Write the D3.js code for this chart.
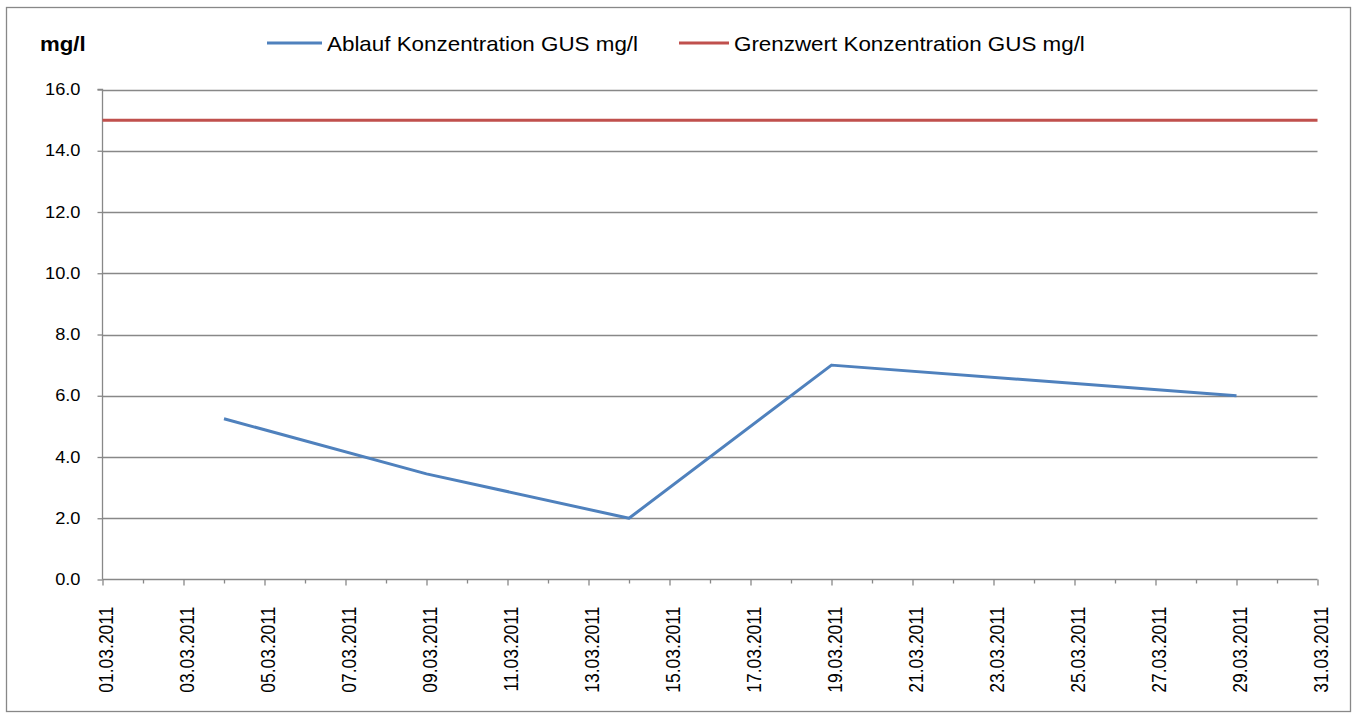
<!DOCTYPE html>
<html>
<head>
<meta charset="utf-8">
<script src="https://cdn.jsdelivr.net/npm/d3@7"></script>
<style>
  body { margin: 0; background: #fff; }
  svg { display: block; font-family: "Liberation Sans", Arial, sans-serif; }
</style>
</head>
<body>
<svg id="chart" width="1357" height="717"></svg>
<script>
// ---- data ----
const measureDates = ["04.03.2011", "09.03.2011", "14.03.2011", "19.03.2011", "29.03.2011"];
const measureValues = [5.25, 3.45, 2.0, 7.0, 6.0];
const limitDates = ["01.03.2011", "31.03.2011"];
const limitValues = [15.0, 15.0];
const seriesNames = ["Ablauf Konzentration GUS mg/l", "Grenzwert Konzentration GUS mg/l"];
const yTicks = [0, 2, 4, 6, 8, 10, 12, 14, 16];
const axisStart = "01.03.2011";
const axisEnd = "31.03.2011";
const unitLabel = "mg/l";

// ---- setup ----
const parse = d3.utcParse("%d.%m.%Y");
const fmt = d3.utcFormat("%d.%m.%Y");
const svg = d3.select("#chart");
const grid = "#888888";
const stretch = 1.14;

const pLeft = 102.5, pRight = 1317.5, pTop = 89.5, pBottom = 579.5;

const x = d3.scaleUtc().domain([parse(axisStart), parse(axisEnd)]).range([pLeft, pRight]);
const y = d3.scaleLinear().domain([0, 16]).range([pBottom, pTop]);

// outer border
svg.append("rect").attr("x", 6.5).attr("y", 7.5).attr("width", 1344).attr("height", 704)
  .attr("fill", "none").attr("stroke", grid).attr("stroke-width", 1.3);

// gridlines
svg.append("g").selectAll("line").data(yTicks.filter(d => d > 0)).join("line")
  .attr("x1", pLeft).attr("x2", pRight)
  .attr("y1", d => Math.round(y(d)) + 0.5).attr("y2", d => Math.round(y(d)) + 0.5)
  .attr("stroke", grid).attr("stroke-width", 1.3);

// y axis
const yAxis = d3.axisLeft(y).tickValues(yTicks).tickFormat(d3.format(".1f")).tickSize(5);
const gy = svg.append("g").attr("transform", `translate(${pLeft},0)`).call(yAxis);
gy.select(".domain").attr("stroke", grid).attr("stroke-width", 1.3).attr("d", `M-5,${pTop}H0V${pBottom}`);
gy.selectAll(".tick line").attr("stroke", grid).attr("stroke-width", 1.3);
gy.selectAll(".tick text").attr("fill", "#000").attr("x", null)
  .attr("transform", `translate(-22,0) scale(${stretch},1)`)
  .style("font-size", "16px")
  .style("font-family", "Liberation Sans, Arial, sans-serif");

// x axis: daily minor ticks, labels every 2 days
const allDays = d3.utcDay.range(parse(axisStart), d3.utcDay.offset(parse(axisEnd), 1));
const labelDays = allDays.filter((d, i) => i % 2 === 0);
const xAxis = d3.axisBottom(x).tickValues(allDays).tickSize(5).tickFormat("");
const gx = svg.append("g").attr("transform", `translate(0,${pBottom})`).call(xAxis);
gx.select(".domain").attr("stroke", grid).attr("stroke-width", 1.3).attr("d", `M${pLeft},0H${pRight}`);
gx.selectAll(".tick line").attr("stroke", grid).attr("stroke-width", 1.3)
  .attr("y2", (d, i) => i % 2 === 0 ? 6 : 4);

svg.append("g").selectAll("text").data(labelDays).join("text")
  .attr("transform", d => `translate(${x(d) + 10},${pBottom + 27}) rotate(-90) scale(1,${stretch})`)
  .attr("text-anchor", "end")
  .style("font-size", "17.5px").attr("fill", "#000")
  .text(d => fmt(d));

// lines
const line = d3.line().x(d => x(d[0])).y(d => y(d[1]));
const limitData = limitDates.map((d, i) => [parse(d), limitValues[i]]);
const measData = measureDates.map((d, i) => [parse(d), measureValues[i]]);
svg.append("path").datum(limitData).attr("d", line).attr("fill", "none")
  .attr("stroke", "#C0504D").attr("stroke-width", 3);
svg.append("path").datum(measData).attr("d", line).attr("fill", "none")
  .attr("stroke", "#4F81BD").attr("stroke-width", 3).attr("stroke-linejoin", "round");

// unit label
svg.append("text").attr("transform", `translate(40,51) scale(${stretch},1)`)
  .style("font-size", "19.5px").style("font-weight", "bold")
  .text(unitLabel);

// legend
const legendItems = [
  { name: seriesNames[0], color: "#4F81BD", x1: 267, x2: 322, tx: 327 },
  { name: seriesNames[1], color: "#C0504D", x1: 679, x2: 729, tx: 734 }
];
const lg = svg.append("g");
legendItems.forEach(it => {
  lg.append("line").attr("x1", it.x1).attr("x2", it.x2).attr("y1", 43).attr("y2", 43)
    .attr("stroke", it.color).attr("stroke-width", 3);
  lg.append("text").attr("transform", `translate(${it.tx},51) scale(1.12,1)`)
    .style("font-size", "20px").text(it.name);
});
</script>
</body>
</html>
